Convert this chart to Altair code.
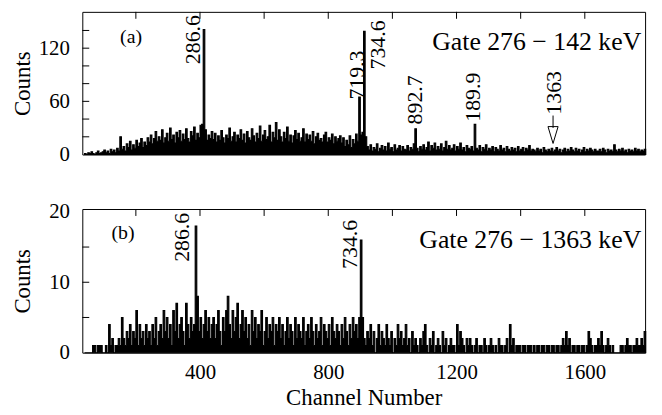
import altair as alt
import pandas as pd

START = 40
STEP = 5

# Panel (a): Gate 276 - 142 keV, counts per 5-channel bin starting at channel 40
a_seg1 = [1,0,2,1,3,1,0,2,4,1, 2,3,5,2,4,1,6,3,5,2, 7,4,20,6,9,4,12,8,15,5, 11,7,16,9,13,18,8,14,10,19]
a_seg2 = [14,22,12,18,26,15,20,16,28,13, 19,24,15,30,17,22,13,25,19,27, 15,23,17,29,18,14,26,21,31,16, 24,19,33,34,141,28,16,22,18,26]
a_seg3 = [17,24,14,21,16,27,19,13,22,18, 30,15,20,25,14,22,18,28,16,23, 13,26,19,16,29,21,14,24,18,32, 15,22,27,17,20,33,14,25,19,36]
a_seg4 = [16,28,20,14,25,18,31,15,22,13, 21,27,17,24,15,19,29,14,23,17, 22,15,26,12,20,24,16,18,14,22, 25,14,19,16,23,12,20,15,18,21]
a_seg5 = [13,19,9,16,11,21,8,17,12,23, 15,65,22,25,139,20,9,5,11,4, 8,6,12,3,7,10,5,9,4,13, 6,8,3,11,5,7,10,4,9,6]
a_seg6 = [5,10,4,8,6,12,29,7,3,9, 6,11,5,8,14,4,10,7,13,5, 9,6,12,4,8,15,6,10,5,7, 11,4,9,6,13,5,8,3,10,7]
a_seg7 = [6,9,4,34,7,5,10,3,8,6, 11,4,7,5,9,3,8,6,4,10, 5,7,3,9,6,4,8,5,7,3, 9,4,6,8,3,7,5,10,4,6]
a_seg8 = [5,3,7,4,6,2,8,5,3,6, 4,7,3,5,8,4,6,2,5,7, 3,6,4,8,5,3,7,4,6,2, 5,8,3,6,4,7,5,3,6,4]
a_seg9 = [4,6,3,7,5,2,6,4,5,3, 11,5,3,6,4,7,3,5,2,6, 4,5,3,7,4,6,3,5,4,6]

# Panel (b): Gate 276 - 1363 keV
b_seg1 = [0,0,0,0,0,1,1,0,1,1, 1,0,0,1,0,4,1,2,0,1, 1,2,1,5,2,1,3,2,4,1, 3,2,6,1,4,2,3,1,4,2]
b_seg2 = [3,1,4,2,5,1,3,4,2,6, 3,5,2,4,1,6,3,7,2,4, 5,3,1,7,4,2,5,3,4,18, 8,3,5,2,4,6,3,5,2,4]
b_seg3 = [5,2,4,6,3,1,5,3,6,8, 4,2,6,3,5,7,2,4,6,3, 5,2,4,1,6,3,5,2,4,3, 6,1,3,5,2,4,3,5,1,4]
b_seg4 = [3,5,2,4,1,3,5,2,4,3, 1,5,2,4,3,2,5,1,3,4, 2,5,3,1,4,2,3,5,1,4, 3,2,4,1,5,3,2,4,3,1]
b_seg5 = [4,2,5,3,1,4,2,5,3,4, 2,5,16,5,2,1,3,2,4,1, 3,0,2,4,1,3,2,1,4,2, 1,3,0,2,1,4,2,3,1,2]
b_seg6 = [4,1,2,0,3,1,2,1,0,2, 1,3,4,1,0,2,1,3,0,1, 2,1,0,3,1,2,0,1,2,1, 1,0,4,1,3,2,1,0,2,1]
b_seg7 = [2,1,0,1,2,0,1,1,0,2, 1,0,1,2,1,0,1,0,2,1, 1,0,1,2,0,4,1,2,0,1, 1,1,0,1,1,0,1,1,1,0]
b_seg8 = [1,0,1,1,0,1,1,0,1,1, 0,1,1,0,1,1,0,1,2,1, 3,1,2,0,1,1,0,1,1,0, 1,1,0,1,3,2,1,0,1,1]
b_seg9 = [2,1,3,1,0,1,2,1,0,1, 0,0,0,0,1,1,0,1,2,1, 1,0,1,1,2,1,1,2,1,3]

counts_a = a_seg1 + a_seg2 + a_seg3 + a_seg4 + a_seg5 + a_seg6 + a_seg7 + a_seg8 + a_seg9
counts_b = b_seg1 + b_seg2 + b_seg3 + b_seg4 + b_seg5 + b_seg6 + b_seg7 + b_seg8 + b_seg9

# Annotations
a_peak_text = ["286.6", "719.3", "734.6", "892.7", "189.9", "1363"]
a_peak_ch = [379, 891, 954, 1070, 1252, 1505]
a_peak_y = [102, 62, 96, 34, 37, 45]
b_peak_text = ["286.6", "734.6"]
b_peak_ch = [345, 868]
b_peak_y = [12.9, 11.9]

arrow_ch = [1501]
arrow_top = [44]
arrow_bottom = [30]
arrow_head_y = [22]

gate_text = ["Gate 276 \u2212 142 keV", "Gate 276 \u2212 1363 keV"]
gate_ch = [1776, 1776]
gate_y = [118.5, 14.9]
tag_text = ["(a)", "(b)"]
tag_ch = [185, 160]
tag_y = [133, 17]

x_domain = [33, 1788]
x_ticks = [200, 400, 600, 800, 1000, 1200, 1400, 1600]
x_labels = [400, 800, 1200, 1600]
a_ymax = 161
a_ylabels = [0, 60, 120]
a_yticks = [20, 40, 60, 80, 100, 120, 140]
b_ymax = 20.4
b_ylabels = [0, 10, 20]
b_yticks = [5, 10, 15]

W = 568
FONT = "Liberation Serif"


def spectrum_df(counts):
    # step edges: each bin value spans [ch, ch+STEP); final edge repeats the last value
    ch = [START + STEP * i for i in range(len(counts))] + [START + STEP * len(counts)]
    vals = list(counts) + [counts[-1]]
    return pd.DataFrame({"ch": ch, "counts": vals})


def panel(counts, ymax, ylabels, yticks, ptext, pch, py, gi, H, show_x, arrow=False):
    xscale = alt.Scale(domain=x_domain, nice=False, zero=False)
    yscale = alt.Scale(domain=[0, ymax], nice=False, zero=True)
    if show_x:
        xaxis = alt.Axis(values=x_labels, title="Channel Number", ticks=False, domain=False,
                         grid=False, labelPadding=9, titlePadding=4, labelFontSize=21,
                         titleFontSize=23, format="d", labelFont=FONT, titleFont=FONT,
                         titleFontWeight="normal", labelColor="black", titleColor="black")
    else:
        xaxis = None
    yaxis = alt.Axis(values=ylabels, title="Counts", ticks=False, domain=False, grid=False,
                     labelPadding=13, labelFontSize=21, titleFontSize=23,
                     labelFont=FONT, titleFont=FONT, titleFontWeight="normal",
                     labelColor="black", titleColor="black",
                     titleX=-60, titleY=H / 2, titleAngle=270, titleBaseline="middle",
                     titleAlign="center")
    X = lambda f: alt.X(f, scale=xscale, axis=xaxis)
    Y = lambda f: alt.Y(f, scale=yscale, axis=yaxis)

    spec = alt.Chart(spectrum_df(counts)).mark_area(
        color="black", interpolate="step-after", opacity=1, stroke="black", strokeWidth=1.1).encode(
        x=X("ch:Q"), y=Y("counts:Q"))
    top_t = alt.Chart(pd.DataFrame({"t": x_ticks})).mark_rule(color="black", strokeWidth=1).encode(
        x=X("t:Q"), y=alt.value(0), y2=alt.value(7))
    left_t = alt.Chart(pd.DataFrame({"v": yticks})).mark_rule(color="black", strokeWidth=1).encode(
        y=Y("v:Q"), x=alt.value(0), x2=alt.value(7))
    peaks = alt.Chart(pd.DataFrame({"t": ptext, "ch": pch, "y": py})).mark_text(
        angle=270, align="left", baseline="middle", fontSize=22, font=FONT, color="black").encode(
        x=X("ch:Q"), y=Y("y:Q"), text="t:N")
    gate = alt.Chart(pd.DataFrame({"t": [gate_text[gi]], "ch": [gate_ch[gi]], "y": [gate_y[gi]]})).mark_text(
        align="right", baseline="alphabetic", fontSize=26, font=FONT, color="black").encode(
        x=X("ch:Q"), y=Y("y:Q"), text="t:N")
    tag = alt.Chart(pd.DataFrame({"t": [tag_text[gi]], "ch": [tag_ch[gi]], "y": [tag_y[gi]]})).mark_text(
        align="center", baseline="middle", fontSize=20, font=FONT, color="black").encode(
        x=X("ch:Q"), y=Y("y:Q"), text="t:N")
    layers = [spec, top_t, left_t, peaks, gate, tag]
    if arrow:
        adf = pd.DataFrame({"ch": arrow_ch, "top": arrow_top, "bot": arrow_bottom, "head": arrow_head_y})
        shaft = alt.Chart(adf).mark_rule(color="black", strokeWidth=1).encode(
            x=X("ch:Q"), y=Y("top:Q"), y2="bot")
        head = alt.Chart(adf).mark_point(shape="M-0.6,-1L0.6,-1L0,1Z", filled=False, color="black",
                                         strokeWidth=1, size=289, opacity=1).encode(
            x=X("ch:Q"), y=Y("head:Q"))
        layers += [shaft, head]
    return alt.layer(*layers).properties(width=W, height=H)


pa = panel(counts_a, a_ymax, a_ylabels, a_yticks, a_peak_text, a_peak_ch, a_peak_y, 0, 144, False, arrow=True)
pb = panel(counts_b, b_ymax, b_ylabels, b_yticks, b_peak_text, b_peak_ch, b_peak_y, 1, 145, True)

chart = alt.vconcat(pa, pb, spacing=35).resolve_scale(x="independent", y="independent").properties(
    padding={"left": 3, "top": 1, "right": 5, "bottom": 2}, background="white"
).configure_view(stroke="black", strokeWidth=1).configure_axis(
    labelFont=FONT, titleFont=FONT
).configure_text(font=FONT)

chart.save("out.html", embed_options={"renderer": "svg", "actions": False})
